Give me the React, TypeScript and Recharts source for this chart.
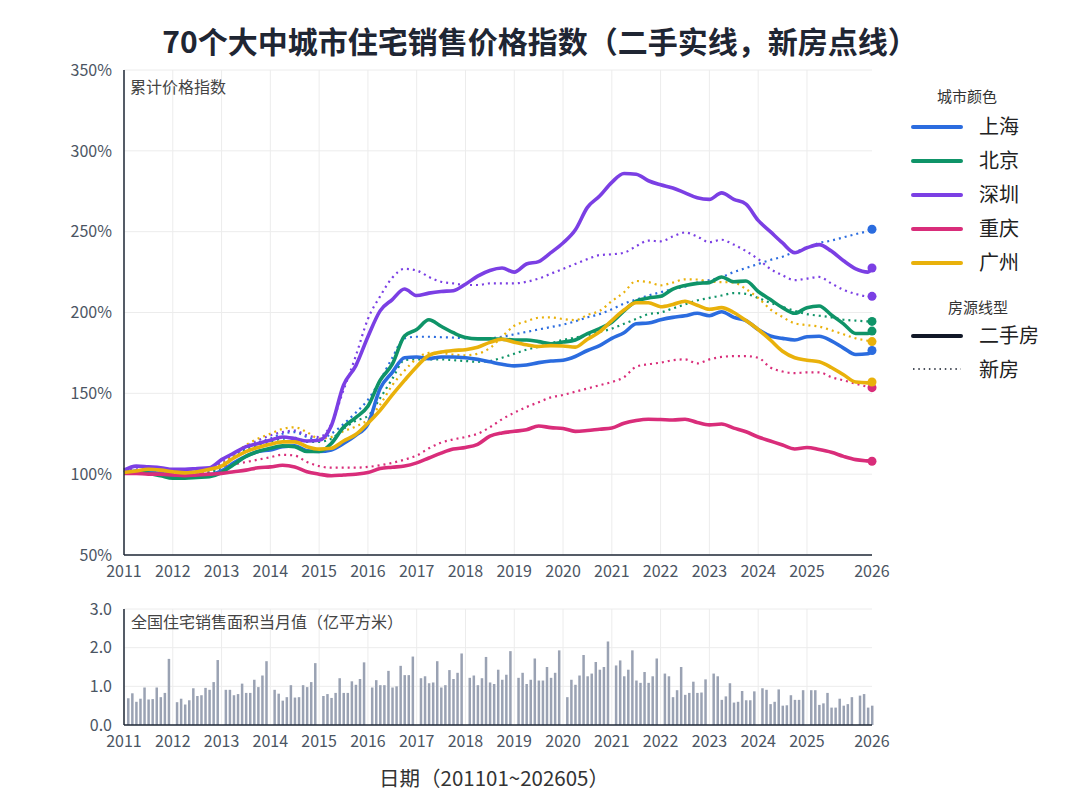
import React from 'react';
import { Bar, BarChart, CartesianGrid, Line, LineChart, XAxis, YAxis } from 'recharts';

const FONT = '"Noto Sans CJK SC", "Noto Sans", sans-serif';

// month index: 0 = 2011-01 ... 184 = 2026-05, price curves sampled every quarter
const sampleMonths = Array.from({ length: 62 }, (_, i) => i * 3).concat([184]);
const yearTicks = [0, 12, 24, 36, 48, 60, 72, 84, 96, 108, 120, 132, 144, 156, 168, 184];
const yearLabels = ['2011', '2012', '2013', '2014', '2015', '2016', '2017', '2018', '2019', '2020', '2021', '2022', '2023', '2024', '2025', '2026'];
const gridMonths = yearTicks.slice(0, -1);
const priceTicks = [50, 100, 150, 200, 250, 300, 350];
const areaTicks = [0, 1, 2, 3];

// cumulative price index (%), second-hand = solid, new = dotted
const shanghai2nd = [
  101, 102, 101, 100.5, 99, 98.5, 99, 99.5, 102, 107, 111, 114, 115, 117, 117.5, 114.5,
  114, 115, 119, 124, 131, 153, 163, 172, 172.5, 171.5, 172.5, 172.5, 172, 171, 169.5, 168,
  167, 167.5, 169, 170, 170.5, 172.8, 176.5, 179.5, 184, 187.5, 193, 193.5, 195.5, 197, 198, 199.5,
  198, 200.5, 197, 195, 189.5, 185.5, 184, 183, 185, 185.3, 182.5, 178, 174, 174.5, 176.5,
];
const shanghaiNew = [
  101, 102, 102, 101, 100, 100, 100.5, 101.5, 105, 111, 116, 119.5, 122, 125, 126, 123,
  121.5, 125, 131, 138, 146, 158, 172, 184, 185, 185, 184.7, 184.5, 184, 183.7, 184, 185,
  186.5, 188, 189.5, 191, 192.5, 194.5, 197, 199, 202, 205.5, 208, 210.5, 212.5, 214.5, 216, 218.5,
  220, 222, 225, 227.5, 230, 232.5, 234.5, 237.5, 240, 243, 244.5, 246.5, 248.5, 250.5, 251.5,
];
const beijing2nd = [
  101, 101.5, 100.5, 99, 97.5, 97.5, 98, 98.5, 101, 106, 111, 114, 116, 117.5, 117, 114,
  114, 119, 129, 135, 142, 158, 168, 185.5, 189.5, 195.5, 191.5, 187.5, 184.5, 183.7, 183.7, 183.5,
  183, 183, 182, 180.7, 181.7, 183, 187, 190, 194, 201, 207, 209, 210, 214.5, 216.7, 218,
  218.5, 222, 219, 219.5, 213, 208, 203, 199.5, 203, 204, 198.5, 193, 187, 187, 188.5,
];
const beijingNew = [
  101, 102, 102, 101, 100, 99.5, 100, 101, 104, 110, 115, 118, 120, 122, 122.5, 120,
  120, 122, 128, 133, 136, 147, 159, 170.5, 171, 171, 171, 170.5, 170, 169.5, 170, 172,
  174.5, 177, 178.8, 181, 183, 184.5, 186, 188, 190, 193, 196, 199, 200, 202.5, 205, 207.5,
  209, 210.5, 212, 211.5, 209, 206, 203.5, 201, 199, 198, 197, 195.5, 195, 194.5, 194.5,
];
const shenzhen2nd = [
  102.5, 105, 104.5, 104, 103, 103, 103.5, 104, 109, 113, 117, 119, 121, 123, 122, 120.5,
  121, 130, 155, 167, 185, 201, 208, 214.5, 210.5, 212, 213, 213.5, 217.5, 222.5, 226, 227.5,
  225, 230, 231.5, 237, 243, 251, 265, 272, 280.5, 286, 285.5, 281.5, 279, 277, 274, 271,
  270, 274, 270, 267, 257, 250, 243, 237, 240, 242, 238, 232, 227, 225, 227.5,
];
const shenzhenNew = [
  102, 103, 103, 102, 101, 101, 102, 103, 107, 112, 117, 121, 124, 126, 127, 124,
  123, 131, 152, 173, 196, 210, 221.5, 227, 226, 222, 219, 218, 217, 217, 218, 218,
  218, 219, 221, 224, 227, 230, 233, 235.5, 236, 237, 241, 244.5, 244, 247, 249.5, 247,
  243.5, 245, 242, 238, 233, 227, 223, 220, 221, 222, 218, 214, 211.5, 210, 210,
];
const chongqing2nd = [
  100.5, 100.5, 100, 100, 99.5, 99, 99.5, 100, 100.5, 101.5, 102.5, 104, 104.5, 105.5, 104.5, 101.5,
  100, 99, 99.5, 100, 101, 103.5, 104.3, 105, 107, 110, 113, 115.5, 116.5, 118.5, 123.5, 125.5,
  126.5, 127.5, 129.8, 128.8, 128.3, 126.5, 127, 127.8, 128.5, 131.5, 133.2, 134, 133.8, 133.5, 134, 132,
  130.5, 131, 128.5, 126.2, 123, 120.5, 118, 115.6, 116.5, 115.2, 113.5, 111, 109, 108.2, 108,
];
const chongqingNew = [
  101.5, 102.5, 103, 102, 101.5, 101.5, 102, 103, 104.5, 106, 107.5, 109, 110.5, 112, 111.5, 107.5,
  105, 104, 104, 104, 104.5, 105.5, 107, 109, 111.5, 116, 119.5, 121.5, 123, 125, 129, 134,
  138, 141.5, 144.5, 147.5, 149, 151, 153, 155, 157, 160, 166.5, 168, 169, 170.5, 171, 168.5,
  171, 172.5, 173, 173, 172, 166, 163.5, 162.5, 163, 163, 160, 158, 156, 154, 153.5,
];
const guangzhou2nd = [
  101, 102, 103, 102.5, 101.5, 100.8, 101.5, 103, 105, 110, 114, 116.5, 118.5, 120, 120, 117,
  115.5, 116, 120.5, 124.5, 131.5, 139.5, 149, 158, 166.5, 173.5, 175.5, 176.5, 177, 178.5, 181.5, 183.5,
  181.6, 180, 179, 179.5, 179.3, 178.6, 183.5, 188, 195, 201.5, 206, 206, 203.6, 205, 207, 204.5,
  202, 203, 200, 195, 189.5, 183, 176, 172, 170.5, 169.5, 166, 161.5, 157, 156.5, 157,
];
const guangzhouNew = [
  101, 102, 103, 102, 101, 100.5, 101, 102.5, 106, 112, 118, 122, 125, 128, 129, 126,
  122, 123, 126.5, 129.5, 133.7, 143, 155, 164, 171.5, 175, 175, 174, 173.5, 174.5, 178, 185,
  191.8, 194.5, 196.8, 197, 196, 195.3, 198.5, 201, 207, 212.5, 219.5, 218.8, 216.8, 218.5, 220.5, 220.4,
  219, 218.8, 218.5, 214.5, 209, 202, 197.2, 193.3, 192.2, 191.3, 189, 186.5, 184, 182.5, 182,
];

// national residential sales area per month (100M m²), Feb..Dec each year (Jan merged into Feb)
const areaYears = [2011, 2012, 2013, 2014, 2015, 2016, 2017, 2018, 2019, 2020, 2021, 2022, 2023, 2024, 2025, 2026];
const salesArea = [
  [0.69, 0.82, 0.6, 0.68, 0.97, 0.66, 0.67, 0.97, 0.72, 0.83, 1.71],
  [0.59, 0.68, 0.53, 0.64, 0.95, 0.75, 0.77, 0.96, 0.91, 1.11, 1.68],
  [0.91, 0.91, 0.77, 0.8, 1.07, 0.83, 0.83, 1.17, 0.98, 1.28, 1.65],
  [0.91, 0.81, 0.63, 0.72, 1.03, 0.71, 0.72, 1.03, 0.98, 1.11, 1.6],
  [0.75, 0.8, 0.7, 0.83, 1.21, 0.83, 0.83, 1.13, 1.04, 1.19, 1.62],
  [0.97, 1.16, 1.03, 1.03, 1.4, 0.97, 1.0, 1.53, 1.29, 1.29, 1.77],
  [1.21, 1.26, 1.08, 1.1, 1.65, 0.97, 1.03, 1.42, 1.19, 1.35, 1.85],
  [1.22, 1.28, 1.03, 1.21, 1.76, 1.1, 1.06, 1.43, 1.17, 1.3, 1.91],
  [1.22, 1.35, 1.06, 1.17, 1.72, 1.15, 1.15, 1.5, 1.22, 1.35, 1.93],
  [0.72, 1.17, 1.04, 1.28, 1.81, 1.26, 1.33, 1.63, 1.43, 1.5, 2.16],
  [1.54, 1.67, 1.26, 1.43, 1.93, 1.15, 1.09, 1.37, 1.09, 1.26, 1.72],
  [1.33, 1.26, 0.72, 0.9, 1.5, 0.78, 0.83, 1.12, 0.83, 0.84, 1.18],
  [1.33, 1.26, 0.65, 0.74, 1.08, 0.58, 0.6, 0.88, 0.64, 0.64, 0.87],
  [0.95, 0.91, 0.54, 0.6, 0.92, 0.5, 0.51, 0.77, 0.65, 0.65, 0.9],
  [0.9, 0.9, 0.52, 0.56, 0.83, 0.45, 0.45, 0.68, 0.5, 0.54, 0.72],
  [0.76, 0.8, 0.45, 0.5],
];

const cities = [
  { key: 'sh', name: '上海', color: '#2b6cdf', solid: shanghai2nd, dotted: shanghaiNew },
  { key: 'bj', name: '北京', color: '#0f9468', solid: beijing2nd, dotted: beijingNew },
  { key: 'sz', name: '深圳', color: '#7b3fe4', solid: shenzhen2nd, dotted: shenzhenNew },
  { key: 'cq', name: '重庆', color: '#d92d7a', solid: chongqing2nd, dotted: chongqingNew },
  { key: 'gz', name: '广州', color: '#e9b10b', solid: guangzhou2nd, dotted: guangzhouNew },
];

const priceRows = sampleMonths.map((m, i) => {
  const row: Record<string, number> = { m };
  cities.forEach((c) => {
    row[c.key] = c.solid[i];
    row[c.key + 'N'] = c.dotted[i];
  });
  return row;
});

const areaRows = areaYears.flatMap((year, yi) =>
  salesArea[yi].map((v, k) => ({ m: (year - 2011) * 12 + k + 1, v }))
);

const lastIndex = sampleMonths.length - 1;

function endDot(color: string, r: number) {
  return (props: any) => {
    const { cx, cy, index } = props;
    if (index !== lastIndex) return <g key={`n-${index}`} />;
    return <circle key={`e-${index}`} cx={cx} cy={cy} r={r} fill={color} />;
  };
}

const yearLabel = (m: number) => yearLabels[yearTicks.indexOf(m)] ?? '';

const tickStyle = { fill: '#4b5563', fontSize: 16, fontFamily: FONT };
const axisStyle = { stroke: '#1f2937', strokeWidth: 1.5 };

export default function App() {
  return (
    <div style={{ position: 'relative', width: 1080, height: 810, background: '#fff', fontFamily: FONT }}>
      <style>{'body{margin:0}'}</style>
      <div style={{ position: 'absolute', left: 0, top: 0 }}>
        <LineChart width={1080} height={590} data={priceRows} margin={{ top: 70, right: 208, bottom: 5, left: 0 }}>
          <CartesianGrid stroke="#ececec" verticalValues={gridMonths} horizontalValues={priceTicks} />
          <XAxis
            dataKey="m"
            type="number"
            domain={[0, 184]}
            ticks={yearTicks}
            interval={0}
            tickFormatter={yearLabel}
            tick={tickStyle}
            tickLine={false}
            tickMargin={5}
            axisLine={axisStyle}
            height={30}
          />
          <YAxis
            type="number"
            domain={[50, 350]}
            ticks={priceTicks}
            interval={0}
            tickFormatter={(v) => `${v}%`}
            tick={tickStyle}
            tickLine={false}
            tickMargin={6}
            axisLine={axisStyle}
            width={124}
          />
          {cities.map((c) => (
            <Line
              key={c.key + 'N'}
              type="monotone"
              dataKey={c.key + 'N'}
              stroke={c.color}
              strokeWidth={2.2}
              strokeDasharray="2 4"
              dot={endDot(c.color, 4.5)}
              activeDot={false}
              isAnimationActive={false}
            />
          ))}
          {cities.map((c) => (
            <Line
              key={c.key}
              type="monotone"
              dataKey={c.key}
              stroke={c.color}
              strokeWidth={3.6}
              strokeLinejoin="round"
              dot={endDot(c.color, 4.5)}
              activeDot={false}
              isAnimationActive={false}
            />
          ))}
        </LineChart>
      </div>
      <div style={{ position: 'absolute', left: 0, top: 580 }}>
        <BarChart width={1080} height={180} data={areaRows} margin={{ top: 29, right: 208, bottom: 5, left: 0 }}>
          <CartesianGrid stroke="#ececec" verticalValues={gridMonths} horizontalValues={areaTicks} />
          <XAxis
            dataKey="m"
            type="number"
            domain={[0, 184]}
            ticks={yearTicks}
            interval={0}
            tickFormatter={yearLabel}
            tick={tickStyle}
            tickLine={false}
            tickMargin={5}
            axisLine={axisStyle}
            height={30}
          />
          <YAxis
            type="number"
            domain={[0, 3]}
            ticks={areaTicks}
            interval={0}
            tickFormatter={(v) => Number(v).toFixed(1)}
            tick={tickStyle}
            tickLine={false}
            tickMargin={6}
            axisLine={axisStyle}
            width={124}
          />
          <Bar dataKey="v" fill="#9aa2b3" barSize={2.5} isAnimationActive={false} />
        </BarChart>
      </div>
      <svg width={1080} height={810} style={{ position: 'absolute', left: 0, top: 0, pointerEvents: 'none' }}>
        <text x={540} y={53} textAnchor="middle" fontSize={30} fontWeight={700} fill="#1f2633" fontFamily={FONT}>
          70个大中城市住宅销售价格指数（二手实线，新房点线）
        </text>
        <text x={130} y={93} fontSize={16} fill="#444" fontFamily={FONT}>累计价格指数</text>
        <text x={131} y={628} fontSize={16} fill="#444" fontFamily={FONT}>全国住宅销售面积当月值（亿平方米）</text>
        <text x={494} y={786} textAnchor="middle" fontSize={20.5} fill="#333" fontFamily={FONT}>日期（201101~202605）</text>
        <text x={967} y={102} textAnchor="middle" fontSize={15} fill="#333" fontFamily={FONT}>城市颜色</text>
        {cities.map((c, i) => (
          <g key={c.key}>
            <line x1={913} x2={961} y1={127 + i * 34} y2={127 + i * 34} stroke={c.color} strokeWidth={4} strokeLinecap="round" />
            <text x={979} y={134 + i * 34} fontSize={20} fill="#222" fontFamily={FONT}>{c.name}</text>
          </g>
        ))}
        <text x={978} y={313} textAnchor="middle" fontSize={15} fill="#333" fontFamily={FONT}>房源线型</text>
        <line x1={913} x2={961} y1={336} y2={336} stroke="#111827" strokeWidth={4} strokeLinecap="round" />
        <text x={979} y={343} fontSize={20} fill="#222" fontFamily={FONT}>二手房</text>
        <line x1={913} x2={961} y1={369} y2={369} stroke="#111827" strokeWidth={1.6} strokeDasharray="1.5 3.8" />
        <text x={979} y={377} fontSize={20} fill="#222" fontFamily={FONT}>新房</text>
      </svg>
    </div>
  );
}
